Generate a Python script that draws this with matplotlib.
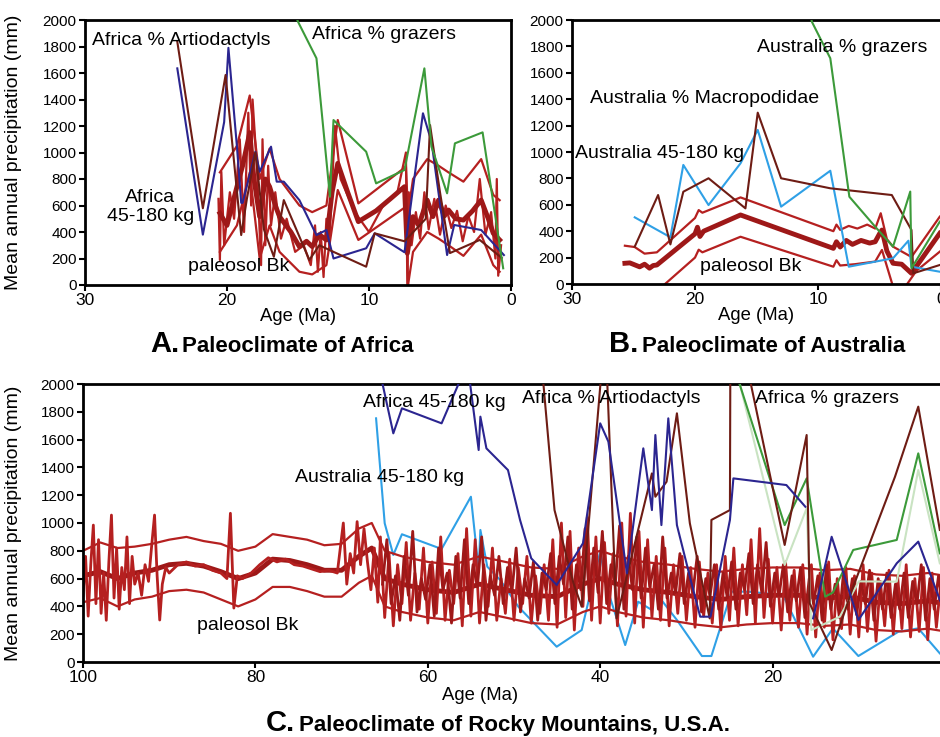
import numpy as np
import matplotlib.pyplot as plt

plt.rcParams['font.family'] = ['Liberation Sans', 'DejaVu Sans']

# colours
NAVY = '#2b2590'
BROWN = '#6e1c14'
GREEN = '#3c9a3a'
LBLUE = '#2fa0e6'
LGREEN = '#c9e3c2'
RED = '#b52020'
DRED = '#9e1818'

# ---------------- A. Africa ----------------
a_size_age = [23.5, 21.7, 20.2, 19.9, 19.3, 19.0, 18.9, 18.0, 17.7, 16.9, 16.5, 16.0, 14.9,
              13.7, 13.0, 12.5, 10.2, 9.6, 7.5, 6.2, 5.6, 4.5, 4.0, 2.1, 0.5]
a_size_val = [1635, 380, 1230, 1790, 1044, 620, 620, 1006, 855, 1044, 780, 780, 640,
              377, 415, 200, 277, 390, 247, 1296, 1082, 226, 453, 415, 226]

a_artio_age = [23.5, 21.7, 20.1, 19.0, 18.6, 18.0, 17.4, 16.7, 16.0, 14.2, 13.5, 12.5, 10.2,
               9.6, 7.5, 6.0, 5.7, 5.0, 4.3, 2.2, 0.65]
a_artio_val = [1836, 579, 1585, 377, 650, 1000, 420, 213, 641, 189, 300, 250, 138,
               390, 330, 500, 1207, 700, 241, 340, 204]

a_graz_age = [15.6, 15.0, 13.7, 12.75, 12.5, 10.2, 9.5, 7.5, 6.1, 5.6, 4.5, 3.95, 2.0, 0.55]
a_graz_val = [2150, 1987, 1711, 666, 1245, 1006, 767, 868, 1635, 1044, 692, 1069, 1152, 126]

a_bk_age = [20.5, 20.0, 19.3, 18.9, 18.4, 18.1, 17.7, 17.3, 17.0, 16.6, 16.3, 15.5, 14.9, 14.4,
            14.0, 13.5, 13.0, 12.6, 12.2, 11.5, 10.75, 9.5, 8.5, 7.5, 7.3, 6.9, 6.5, 5.9, 5.5,
            5.1, 4.7, 4.4, 3.9, 3.35, 2.7, 2.1, 1.6, 1.25, 0.8]
a_bk_mean = [541, 450, 742, 900, 1150, 800, 516, 800, 742, 600, 516, 400, 289, 330,
             290, 380, 340, 700, 918, 700, 478, 560, 650, 742, 239, 516, 450, 641, 516,
             641, 520, 566, 500, 490, 560, 641, 500, 390, 340]

a_band_age = [20.5, 19.3, 18.4, 17.7, 17.0, 16.3, 14.9, 14.0, 13.0, 12.2, 10.75, 7.4, 7.25,
              6.9, 5.9, 5.1, 4.4, 3.35, 2.1, 1.25, 0.8]
a_band_hi = [850, 1050, 1430, 800, 1030, 800, 600, 550, 600, 1245, 616, 893, 540,
             800, 950, 900, 850, 780, 950, 680, 640]
a_band_lo = [250, 450, 850, 200, 450, 250, 100, 80, 150, 717, 340, 591, 0,
             250, 400, 350, 300, 220, 380, 150, 100]

a_jag_age = [20.6, 20.5, 20.4, 20.2, 19.8, 19.5, 19.1, 18.8, 18.5, 18.3, 18.2, 17.9, 17.6, 17.5,
             17.3, 17.1, 16.9, 16.6, 16.2, 15.8, 15.2, 14.6, 14.1, 13.8, 13.6, 13.4, 13.2, 13.0,
             12.8, 12.4, 12.0, 11.0, 10.0, 9.0, 8.0, 7.4, 7.3, 7.2, 7.0, 6.7, 6.4, 6.1, 5.8,
             5.4, 5.0, 4.6, 4.2, 3.8, 3.4, 3.0, 2.6, 2.2, 1.8, 1.4, 1.1, 1.0, 0.9, 0.7]
a_jag_val = [650, 189, 855, 300, 700, 500, 1100, 400, 1300, 600, 1400, 900, 150, 1100,
             300, 900, 450, 700, 350, 500, 250, 300, 150, 450, 100, 400, 60, 500,
             300, 1200, 800, 550, 400, 600, 700, 1000, 0, 700, 300, 550, 350, 700, 420,
             650, 380, 600, 430, 560, 330, 520, 400, 800, 380, 550, 200, 800, 70, 300]

# ---------------- B. Australia ----------------
b_size_age = [24.9, 22.0, 20.95, 18.9, 16.3, 14.9, 13.0, 9.0, 7.5, 3.9, 2.65, 2.4, 0.1]
b_size_val = [505, 354, 902, 598, 914, 1167, 586, 858, 131, 195, 328, 131, 93]

b_macro_age = [24.9, 23.0, 22.0, 20.95, 18.9, 15.9, 14.9, 13.0, 9.0, 4.0, 2.4, 2.25, 0.1]
b_macro_val = [283, 674, 300, 699, 801, 573, 1298, 801, 725, 674, 409, 81, 144]

b_graz_age = [10.7, 10.5, 9.0, 7.45, 5.35, 3.9, 2.5, 2.4, 0.1]
b_graz_val = [2100, 1987, 1710, 661, 434, 283, 700, 119, 472]

b_bk_age = [25.7, 25.3, 24.9, 24.5, 24.1, 23.7, 23.4, 23.1, 20.0, 19.8, 19.6, 19.3, 16.3, 8.75,
            8.5, 8.2, 7.7, 7.2, 6.5, 5.8, 5.35, 5.0, 4.8, 4.4, 3.9, 3.2, 2.4, 0.1]
b_bk_mean = [157, 160, 145, 130, 150, 120, 140, 144, 380, 430, 360, 400, 523, 270,
             320, 280, 330, 300, 330, 310, 320, 380, 409, 250, 157, 150, 81, 384]

b_hi_age = [25.7, 24.9, 24.1, 23.1, 20.0, 19.7, 19.4, 16.3, 8.75, 8.5, 8.2, 7.5, 6.8, 6.0,
            5.35, 4.9, 4.4, 3.9, 2.4, 0.1]
b_hi_val = [290, 280, 230, 240, 500, 560, 540, 656, 400, 450, 410, 440, 420, 450,
            420, 536, 340, 283, 205, 510]
b_lo_age = [22.8, 20.0, 19.7, 19.4, 16.3, 8.75, 8.5, 8.2, 7.0, 5.35, 4.8, 3.9, 2.9, 2.0, 0.1]
b_lo_val = [-30, 200, 260, 240, 358, 131, 180, 140, 150, 170, 258, -20, -20, 100, 245]

# ---------------- C. Rocky Mountains ----------------
c_afr_age = [65.6, 64.0, 63.0, 58.4, 55.4, 54.1, 53.9, 53.2, 50.7, 49.3, 48.0, 45.05, 42.0,
             40.0, 39.05, 36.9, 35.0, 34.0, 33.6, 32.9, 32.1, 31.1, 29.6, 28.4, 27.2, 24.95,
             24.55, 18.4, 16.2]
c_afr_val = [2100, 1645, 1825, 1717, 2150, 1525, 1765, 1537, 1381, 1022, 746, 554, 854,
             1717, 1585, 638, 1537, 1093, 1633, 985, 1753, 985, 614, 326, 326, 1022,
             1321, 1273, 1117]
c_afr2_age = [15.3, 13.15, 11.4, 10.05, 5.6, 3.1, 0.6, -0.5]
c_afr2_val = [314, 901, 566, 302, 710, 866, 446, 300]

c_aus_age = [66.0, 65.0, 64.0, 63.0, 58.4, 55.0, 54.1, 53.9, 53.1, 51.6, 49.5, 45.05, 42.15,
             40.0, 39.3, 37.1, 35.6, 34.0, 33.6, 32.9, 31.1, 28.2, 27.1, 24.75, 22.8, 18.8,
             15.3, 13.0, 10.05, 5.4, 3.1, 0.6, -0.5]
c_aus_val = [1753, 998, 770, 919, 813, 1189, 662, 950, 686, 590, 398, 110, 230,
             794, 550, 122, 434, 374, 560, 446, 302, 43, 43, 506, 506, 482,
             38, 242, 43, 218, 242, 62, 0]

c_artio_age = [46.8, 45.3, 43.1, 42.15, 39.7, 39.3, 38.1, 34.0, 33.6, 32.3, 31.1, 29.6, 27.3,
               27.1, 24.95, 24.9, 23.2, 18.6, 16.05, 15.7, 13.15, 10.65, 5.8, 3.1, 0.6]
c_artio_val = [2150, 1093, 566, 398, 2200, 2200, 314, 1357, 1189, 1297, 1789, 998, 314,
               1022, 1093, 2200, 2200, 842, 1633, 422, 86, 542, 1333, 1837, 950]

c_graz_age = [24.6, 18.6, 16.05, 13.9, 13.0, 10.65, 5.6, 3.1, 0.6]
c_graz_val = [2150, 985, 1321, 470, 500, 806, 878, 1501, 782]
c_graz2_age = [24.4, 18.6, 16.05, 15.5, 12.2, 10.0, 5.6, 3.1, 0.6]
c_graz2_val = [2150, 698, 1106, 230, 326, 580, 578, 1381, 710]

c_bk_age = [100, 98, 96, 94, 92, 90, 88, 86, 84, 82, 80, 78, 76, 74, 72, 70, 68, 66.5, 65, 63,
            60, 57, 54, 51, 48, 45, 42, 40, 38, 35, 32, 29, 26, 23, 20, 17, 14, 11, 8, 5, 2, 0]
c_bk_mean = [620, 650, 600, 640, 660, 700, 710, 690, 650, 600, 640, 740, 730, 700, 660, 660,
             760, 820, 600, 560, 520, 500, 560, 520, 480, 470, 560, 600, 560, 520, 500, 470,
             450, 470, 480, 480, 460, 470, 430, 420, 440, 420]
c_bk_hi = [800, 860, 820, 830, 850, 880, 900, 870, 850, 800, 830, 920, 900, 880, 840, 850,
           960, 1000, 800, 760, 720, 700, 760, 720, 680, 670, 760, 800, 760, 720, 700, 670,
           650, 670, 680, 680, 660, 670, 630, 620, 640, 620]
c_bk_lo = [430, 460, 400, 450, 470, 510, 520, 500, 450, 400, 450, 540, 540, 510, 470, 470,
           570, 620, 400, 360, 320, 300, 360, 320, 280, 270, 360, 400, 360, 320, 300, 270,
           250, 270, 280, 280, 260, 270, 230, 220, 240, 220]

c_jag_age = [100.0, 99.7, 99.4, 99.1, 98.8, 98.5, 98.2, 97.9, 97.6, 97.3, 97.0, 96.7, 96.4,
             96.1, 95.8, 95.5, 95.2, 94.9, 94.6, 94.3, 94.0, 93.6, 93.2, 92.8, 92.4, 92.0,
             91.7, 91.4, 91.1, 90.8, 90.4, 90.0,
             89.0, 88.0, 87.0, 86.0, 85.0, 84.0, 83.3, 82.9, 82.5, 82.1, 81.5, 80.5, 79.5,
             78.5, 77.5, 76.5, 75.5, 74.5, 73.5, 72.5, 71.5, 70.5,
             69.8, 69.4, 69.0, 68.6, 68.2, 67.8, 67.4, 67.0, 66.6, 66.2, 65.8,
             65.5, 65.0, 64.5, 64.0, 63.5, 63.0, 62.5, 62.0, 61.5, 61.0,
             60.5, 60.0, 59.5, 59.0, 58.5, 58.0, 57.5, 57.0, 56.5, 56.0,
             55.5, 55.0, 54.5, 54.0, 53.5, 53.0, 52.5, 52.0, 51.5, 51.0,
             50.5, 50.0, 49.5, 49.0, 48.5, 48.0, 47.5, 47.0, 46.5, 46.0,
             45.5, 45.0, 44.5, 44.0, 43.5, 43.0, 42.5, 42.0, 41.5, 41.0,
             40.5, 40.0, 39.5, 39.0, 38.5, 38.0, 37.5, 37.0, 36.5, 36.0,
             35.5, 35.0, 34.5, 34.0, 33.5, 33.0, 32.5, 32.0, 31.5, 31.0,
             30.5, 30.0, 29.5, 29.0, 28.5, 28.0, 27.5, 27.0, 26.5, 26.0,
             25.5, 25.0, 24.5, 24.0, 23.5, 23.0, 22.5, 22.0, 21.5, 21.0,
             20.5, 20.0, 19.5, 19.0, 18.5, 18.0, 17.5, 17.0, 16.5, 16.0,
             15.5, 15.0, 14.5, 14.0, 13.5, 13.0, 12.5, 12.0, 11.5, 11.0,
             10.5, 10.0, 9.5, 9.0, 8.5, 8.0, 7.5, 7.0, 6.5, 6.0,
             5.5, 5.0, 4.5, 4.0, 3.5, 3.0, 2.5, 2.0, 1.5, 1.0,
             0.5, 0.0]
c_jag_val = [480, 760, 330, 700, 985, 420, 880, 350, 640, 300, 720, 1057, 460,
             820, 380, 680, 520, 900, 420, 760, 560, 640, 480, 700, 580, 860,
             1057, 620, 302, 560, 680, 640,
             700, 720, 690, 700, 660, 640, 600, 1070, 388, 620, 600, 640, 700,
             750, 720, 740, 700, 690, 670, 650, 660, 640,
             1000, 560, 780, 640, 1010, 700, 960, 720, 520, 820, 430,
             900, 320, 780, 260, 700, 420, 860, 300, 640, 380,
             820, 280, 720, 350, 900, 300, 660, 420, 780, 260,
             960, 330, 880, 280, 700, 400, 820, 300, 600, 350,
             740, 300, 680, 420, 760, 280, 620, 350, 700, 300,
             880, 250, 1000, 320, 940, 230, 820, 400, 1040, 300,
             900, 280, 860, 350, 780, 260, 1000, 330, 1070, 280,
             940, 250, 880, 320, 760, 300, 820, 260, 700, 350,
             760, 300, 680, 250, 720, 330, 640, 280, 700, 230,
             760, 300, 820, 260, 700, 340, 880, 280, 960, 320,
             740, 280, 680, 230, 720, 300, 660, 250, 700, 200,
             700, 180, 640, 250, 720, 160, 600, 240, 680, 200,
             620, 180, 700, 220, 640, 150, 580, 260, 660, 200,
             620, 240, 700, 180, 600, 220, 680, 160, 640, 250,
             560, 300]

# second set of Bk points in the dense young record
c_jag2_age = [65.25, 64.75, 64.25, 63.75, 63.25, 62.75, 62.25, 61.75, 61.25, 60.75,
              60.25, 59.75, 59.25, 58.75, 58.25, 57.75, 57.25, 56.75, 56.25, 55.75,
              55.25, 54.75, 54.25, 53.75, 53.25, 52.75, 52.25, 51.75, 51.25, 50.75,
              50.25, 49.75, 49.25, 48.75, 48.25, 47.75, 47.25, 46.75, 46.25, 45.75,
              45.25, 44.75, 44.25, 43.75, 43.25, 42.75, 42.25, 41.75, 41.25, 40.75,
              40.25, 39.75, 39.25, 38.75, 38.25, 37.75, 37.25, 36.75, 36.25, 35.75,
              35.25, 34.75, 34.25, 33.75, 33.25, 32.75, 32.25, 31.75, 31.25, 30.75,
              30.25, 29.75, 29.25, 28.75, 28.25, 27.75, 27.25, 26.75, 26.25, 25.75,
              25.25, 24.75, 24.25, 23.75, 23.25, 22.75, 22.25, 21.75, 21.25, 20.75,
              20.25, 19.75, 19.25, 18.75, 18.25, 17.75, 17.25, 16.75, 16.25, 15.75,
              15.25, 14.75, 14.25, 13.75, 13.25, 12.75, 12.25, 11.75, 11.25, 10.75,
              10.25, 9.75, 9.25, 8.75, 8.25, 7.75, 7.25, 6.75, 6.25, 5.75,
              5.25, 4.75, 4.25, 3.75, 3.25, 2.75, 2.25, 1.75, 1.25, 0.75,
              0.25]
c_jag2_val = [560, 880, 420, 620, 300, 760, 480, 940, 360, 600,
              450, 700, 330, 820, 520, 640, 280, 760, 460, 880,
              420, 700, 540, 900, 300, 620, 480, 760, 420, 680,
              500, 820, 360, 600, 460, 720, 300, 640, 520, 780,
              420, 760, 560, 900, 380, 700, 520, 960, 440, 820,
              500, 940, 420, 700, 560, 980, 380, 760, 520, 900,
              460, 820, 540, 700, 380, 900, 460, 640, 500, 780,
              420, 640, 500, 760, 360, 600, 480, 700, 380, 640,
              460, 720, 380, 640, 520, 780, 420, 700, 500, 860,
              400, 640, 480, 700, 360, 620, 440, 680, 320, 600,
              420, 620, 300, 700, 380, 560, 320, 660, 380, 600,
              340, 580, 420, 660, 300, 600, 380, 640, 320, 560,
              380, 640, 320, 580, 420, 700, 300, 600, 380, 620,
              400]


def frame(ax, x0, xticks):
    ax.set_xlim(x0, 0)
    ax.set_ylim(0, 2000)
    ax.set_yticks(range(0, 2001, 200))
    ax.set_xticks(xticks)
    ax.tick_params(direction='out', length=4, width=1.5, labelsize=11, pad=2)
    ax.tick_params(axis='x', labelsize=12.5)
    for s in ax.spines.values():
        s.set_linewidth(2)
    ax.set_xlabel('Age (Ma)', fontsize=13.3, labelpad=0)


fig = plt.figure(figsize=(9.4, 7.37), dpi=100)
W, H = 940.0, 737.0

# panel A
axA = fig.add_axes([85 / W, 1 - 285 / H, 426 / W, 265 / H])
frame(axA, 30, [30, 20, 10, 0])
axA.plot(a_jag_age, a_jag_val, color=RED, lw=1.6, zorder=2)
axA.plot(a_band_age, a_band_hi, color=RED, lw=1.6, zorder=2)
axA.plot(a_band_age, a_band_lo, color=RED, lw=1.6, zorder=2)
axA.plot(a_bk_age, a_bk_mean, color=DRED, lw=3.5, zorder=2)
axA.plot(a_size_age, a_size_val, color=NAVY, lw=1.5, zorder=3)
axA.plot(a_artio_age, a_artio_val, color=BROWN, lw=1.5, zorder=3)
axA.plot(a_graz_age, a_graz_val, color=GREEN, lw=1.5, zorder=3)
axA.set_ylabel('Mean annual precipitation (mm)', fontsize=14)
axA.yaxis.set_label_coords(-0.148, 0.5)
axA.text(29.5, 1849, 'Africa % Artiodactyls', fontsize=14, va='center', zorder=5)
axA.text(14.0, 1887, 'Africa % grazers', fontsize=14, va='center', zorder=5)
axA.text(25.4, 589, 'Africa\n45-180 kg', fontsize=14, ha='center', va='center',
         linespacing=1.1, zorder=5)
axA.text(22.75, 136, 'paleosol Bk', fontsize=14, va='center', zorder=5)

# panel B
axB = fig.add_axes([572 / W, 1 - 284 / H, 369 / W, 264 / H])
frame(axB, 30, [30, 20, 10, 0])
axB.plot(b_hi_age, b_hi_val, color=RED, lw=1.6, zorder=2)
axB.plot(b_lo_age, b_lo_val, color=RED, lw=1.6, zorder=2)
axB.plot(b_bk_age, b_bk_mean, color=DRED, lw=3.5, zorder=2)
axB.plot(b_size_age, b_size_val, color=LBLUE, lw=1.5, zorder=3)
axB.plot(b_macro_age, b_macro_val, color=BROWN, lw=1.5, zorder=3)
axB.plot(b_graz_age, b_graz_val, color=GREEN, lw=1.5, zorder=3)
axB.text(14.96, 1788, 'Australia % grazers', fontsize=14, va='center', zorder=5)
axB.text(28.5, 1409, 'Australia % Macropodidae', fontsize=14, va='center', zorder=5)
axB.text(29.75, 992, 'Australia 45-180 kg', fontsize=14, va='center', zorder=5)
axB.text(19.6, 129, 'paleosol Bk', fontsize=14, va='center', zorder=5)

# panel C
axC = fig.add_axes([83 / W, 1 - 662 / H, 862 / W, 278 / H])
frame(axC, 100, [100, 80, 60, 40, 20, 0])
axC.plot(c_aus_age, c_aus_val, color=LBLUE, lw=1.5, zorder=1)
axC.plot(c_bk_age, c_bk_hi, color=RED, lw=1.6, zorder=2)
axC.plot(c_bk_age, c_bk_lo, color=RED, lw=1.6, zorder=2)
axC.plot(c_bk_age, c_bk_mean, color=DRED, lw=3.5, zorder=2)
axC.plot(c_jag_age, c_jag_val, color=RED, lw=2, zorder=2)
axC.plot(c_jag2_age, c_jag2_val, color=DRED, lw=2, zorder=2)
axC.plot(c_graz2_age, c_graz2_val, color=LGREEN, lw=1.5, zorder=3)
axC.plot(c_graz_age, c_graz_val, color=GREEN, lw=1.5, zorder=3)
axC.plot(c_artio_age, c_artio_val, color=BROWN, lw=1.5, zorder=3)
axC.plot(c_afr_age, c_afr_val, color=NAVY, lw=1.5, zorder=3)
axC.plot(c_afr2_age, c_afr2_val, color=NAVY, lw=1.5, zorder=3)
axC.set_ylabel('Mean annual precipitation (mm)', fontsize=14)
axC.yaxis.set_label_coords(-0.0708, 0.5)
axC.xaxis.set_label_coords(0.4606, -0.09)
axC.text(67.5, 1870, 'Africa 45-180 kg', fontsize=14, va='center', zorder=5)
axC.text(75.4, 1324, 'Australia 45-180 kg', fontsize=14, va='center', zorder=5)
axC.text(86.8, 266, 'paleosol Bk', fontsize=14, va='center', zorder=5)
axC.text(49.1, 1899, 'Africa % Artiodactyls', fontsize=14, va='center', zorder=5)
axC.text(22.0, 1899, 'Africa % grazers', fontsize=14, va='center', zorder=5)

# panel titles
for letter, rest, xl, xr, yb in [('A.', 'Paleoclimate of Africa', 150, 182, 352),
                                 ('B.', 'Paleoclimate of Australia', 609, 642, 352),
                                 ('C.', 'Paleoclimate of Rocky Mountains, U.S.A.', 266, 299, 731)]:
    fig.text(xl / W, 1 - yb / H, letter, fontsize=21, fontweight='bold', va='baseline')
    fig.text(xr / W, 1 - yb / H, rest, fontsize=16, fontweight='bold', va='baseline')

fig.savefig('out.png', dpi=100)
